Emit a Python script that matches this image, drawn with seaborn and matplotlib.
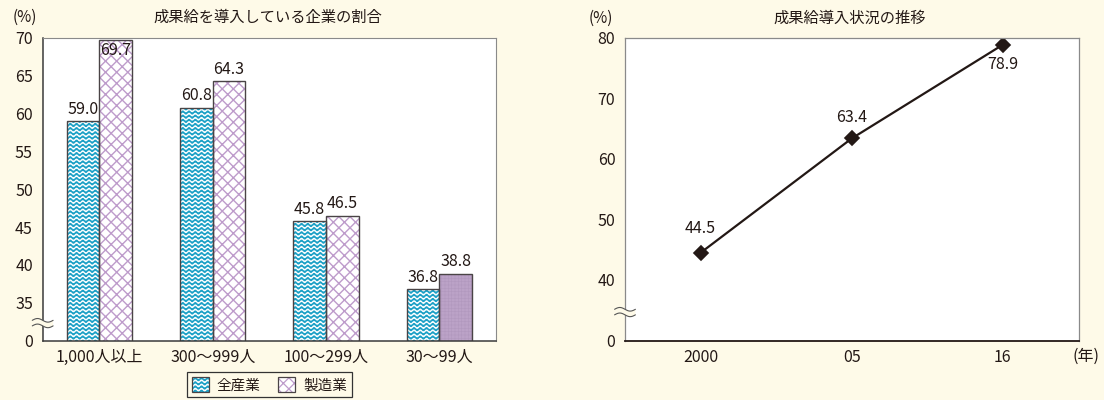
import warnings
import numpy as np
import pandas as pd
import matplotlib
matplotlib.use("Agg")
import matplotlib.pyplot as plt
import matplotlib.hatch as mhatch
from matplotlib import transforms
from matplotlib.path import Path
from matplotlib.patches import Patch, Rectangle
import seaborn as sns

# ---------------- data ----------------
size_classes = ["1,000人以上", "300～999人", "100～299人", "30～99人"]
series_names = ["全産業", "製造業"]
all_industries = [59.0, 60.8, 45.8, 36.8]
manufacturing = [69.7, 64.3, 46.5, 38.8]

survey_years = ["2000", "05", "16"]
adoption_rate = [44.5, 63.4, 78.9]

bar_ticks = [30, 35, 40, 45, 50, 55, 60, 65, 70]
bar_tick_labels = ["0", "35", "40", "45", "50", "55", "60", "65", "70"]
line_ticks = [30, 40, 50, 60, 70, 80]
line_tick_labels = ["0", "40", "50", "60", "70", "80"]

left_title = "成果給を導入している企業の割合"
right_title = "成果給導入状況の推移"

# ---------------- style ----------------
BG = "#FEFAE8"
INK = "#231815"
TEAL = "#1BA0C6"
PURPLE_LINE = "#BE9CCB"
PURPLE_FILL = "#BBA2C7"
OUTLINE = "#4A4446"
FONT = ["Noto Sans CJK JP", "DejaVu Sans"]

sns.set_style("white")
plt.rcParams["font.family"] = FONT
plt.rcParams["text.color"] = INK
plt.rcParams["axes.labelcolor"] = INK
plt.rcParams["xtick.color"] = INK
plt.rcParams["ytick.color"] = INK
warnings.filterwarnings("ignore", message=".*hatch must consist.*")


class WaveHatch(mhatch.HatchPatternBase):
    """Rows of small horizontal sine waves, selected with '~'."""
    periods = 16
    steps = 8

    def __init__(self, hatch, density):
        self.num_rows = int(hatch.count("~") * density * 4)
        self.pts = self.periods * self.steps + 1
        self.num_vertices = self.num_rows * self.pts

    def set_vertices_and_codes(self, vertices, codes):
        x = np.linspace(0.0, 1.0, self.pts)
        wave = (0.3 / self.num_rows) * np.sin(2 * np.pi * self.periods * x)
        for i in range(self.num_rows):
            y0 = (i + 0.5) / self.num_rows
            sl = slice(i * self.pts, (i + 1) * self.pts)
            vertices[sl, 0] = x
            vertices[sl, 1] = y0 + wave
            codes[sl] = Path.LINETO
            codes[i * self.pts] = Path.MOVETO


mhatch._hatch_types.append(WaveHatch)


def dress_bar(ax, bar, face, hatch, hatch_color, hatch_lw):
    bar.set_facecolor(face)
    bar.set_hatch(hatch)
    bar.set_edgecolor(hatch_color)
    bar.set_linewidth(0)
    if hasattr(bar, "set_hatch_linewidth"):
        bar.set_hatch_linewidth(hatch_lw)
    ax.add_patch(Rectangle(bar.get_xy(), bar.get_width(), bar.get_height(),
                           fill=False, edgecolor=OUTLINE, linewidth=1.0,
                           zorder=bar.get_zorder() + 0.1))


def axis_break(ax, yval, fig):
    """Draw a double-wave break symbol across the left spine at data y."""
    anchor = transforms.ScaledTranslation(0, yval, ax.get_yaxis_transform())
    trans = transforms.Affine2D().scale(1 / 72) + fig.dpi_scale_trans + anchor
    xs = np.linspace(-7.5, 7.5, 60)
    wave = -1.3 * np.sin(2 * np.pi * xs / 15.0)
    upper = wave + 2.0
    lower = wave - 2.0
    ax.fill(np.r_[xs, xs[::-1]], np.r_[upper, lower[::-1]], color=BG,
            transform=trans, clip_on=False, zorder=5, lw=0)
    for ys in (upper, lower):
        ax.plot(xs, ys, color="#555555", lw=0.8, transform=trans,
                clip_on=False, zorder=6)


fig = plt.figure(figsize=(11.04, 4.0), dpi=100, facecolor=BG)
W, H = 1104.0, 400.0
ax1 = fig.add_axes([42.7 / W, 1 - 340.5 / H, 453.3 / W, 302.5 / H])
ax2 = fig.add_axes([625.0 / W, 1 - 340.5 / H, 453.5 / W, 302.5 / H])
for ax in (ax1, ax2):
    ax.set_facecolor("white")

# ---------------- left: grouped bars ----------------
bars_df = pd.DataFrame({
    "size": size_classes * 2,
    "series": [series_names[0]] * len(size_classes) + [series_names[1]] * len(size_classes),
    "rate": all_industries + manufacturing,
})
sns.barplot(data=bars_df, x="size", y="rate", hue="series", order=size_classes,
            hue_order=series_names, palette=[TEAL, "white"], width=0.577,
            gap=0, errorbar=None, legend=False, ax=ax1)

ax1.set_xlim(-0.5, len(size_classes) - 0.5)
ax1.set_ylim(30, 70)
ax1.set_yticks(bar_ticks)
ax1.set_yticklabels(bar_tick_labels)
ax1.set_xlabel("")
ax1.set_ylabel("")

teal_bars, purple_bars = ax1.containers[0], ax1.containers[1]
for bar in teal_bars:
    dress_bar(ax1, bar, TEAL, "~", "white", 0.9)
for i, bar in enumerate(purple_bars):
    if i == len(purple_bars) - 1:
        dress_bar(ax1, bar, PURPLE_FILL, "+++++", "#B198BE", 0.4)
    else:
        dress_bar(ax1, bar, "white", "xxx", PURPLE_LINE, 1.0)

for container in (teal_bars, purple_bars):
    for bar in container:
        v = bar.get_height()
        cx = bar.get_x() + bar.get_width() / 2
        if v > 68.5:
            ax1.annotate(f"{v:.1f}", (cx, v), xytext=(0, -1), textcoords="offset points",
                         ha="center", va="top", fontsize=11.5, zorder=10)
        else:
            ax1.annotate(f"{v:.1f}", (cx, v), xytext=(0, 2.5), textcoords="offset points",
                         ha="center", va="bottom", fontsize=11.5, zorder=10)

ax1.tick_params(axis="y", length=4, width=0.8, color="#555555", pad=3, labelsize=11.5)
ax1.tick_params(axis="x", length=0, pad=6, labelsize=11.5)
for side in ("top", "right"):
    ax1.spines[side].set_color("#8A8A8A")
    ax1.spines[side].set_linewidth(0.8)
for side in ("left", "bottom"):
    ax1.spines[side].set_color("#3A3A3A")
    ax1.spines[side].set_linewidth(1.1)
axis_break(ax1, 32.3, fig)

# legend
teal_handle = (Patch(facecolor=TEAL, edgecolor="white", linewidth=0, hatch="~"),
               Patch(fill=False, edgecolor=OUTLINE, linewidth=0.9))
purple_handle = (Patch(facecolor="white", edgecolor=PURPLE_LINE, linewidth=0, hatch="xxx"),
                 Patch(fill=False, edgecolor=OUTLINE, linewidth=0.9))
leg = ax1.legend([teal_handle, purple_handle], series_names, loc="upper center",
                 bbox_to_anchor=(269.4 / W, 1 - 372 / H), bbox_transform=fig.transFigure,
                 ncol=2, fontsize=10.5, frameon=True, fancybox=False, framealpha=1,
                 edgecolor="#333333", facecolor=BG, borderaxespad=0, borderpad=0.35,
                 handlelength=1.15, handleheight=1.15, handletextpad=0.55,
                 columnspacing=1.2)
leg.get_frame().set_linewidth(0.9)
for h in leg.legend_handles:
    if hasattr(h, "set_hatch_linewidth"):
        h.set_hatch_linewidth(0.9)

# ---------------- right: line ----------------
sns.pointplot(x=survey_years, y=adoption_rate, color=INK, markers="D",
              markersize=6.8, linewidth=1.6, errorbar=None, ax=ax2)
ax2.set_xlim(-0.5, len(survey_years) - 0.5)
ax2.set_ylim(30, 80)
ax2.set_yticks(line_ticks)
ax2.set_yticklabels(line_tick_labels)
ax2.set_xlabel("")
ax2.set_ylabel("")
ax2.tick_params(axis="y", length=4, width=0.8, color="#666666", pad=3, labelsize=11.5)
ax2.tick_params(axis="x", length=0, pad=6, labelsize=11.5)
for side in ("top", "right", "left"):
    ax2.spines[side].set_color("#8A8A8A")
    ax2.spines[side].set_linewidth(0.9)
ax2.spines["bottom"].set_color(INK)
ax2.spines["bottom"].set_linewidth(1.3)
axis_break(ax2, 34.7, fig)

label_offsets = [(0, 11), (0, 9), (0, -8)]
for i, (v, off) in enumerate(zip(adoption_rate, label_offsets)):
    ax2.annotate(f"{v:.1f}", (i, v), xytext=off, textcoords="offset points",
                 ha="center", va="bottom" if off[1] > 0 else "top", fontsize=11.5)

# ---------------- titles and unit labels ----------------
fig.text(24.5 / W, 1 - 17.5 / H, "(%)", ha="center", va="center", fontsize=11)
fig.text(268 / W, 1 - 17.5 / H, left_title, ha="center", va="center", fontsize=11)
fig.text(601 / W, 1 - 18 / H, "(%)", ha="center", va="center", fontsize=11)
fig.text(850 / W, 1 - 18 / H, right_title, ha="center", va="center", fontsize=11)
fig.text(1086 / W, 1 - 356 / H, "(年)", ha="center", va="center", fontsize=11.5)

fig.savefig("out.png", dpi=100, facecolor=BG)
